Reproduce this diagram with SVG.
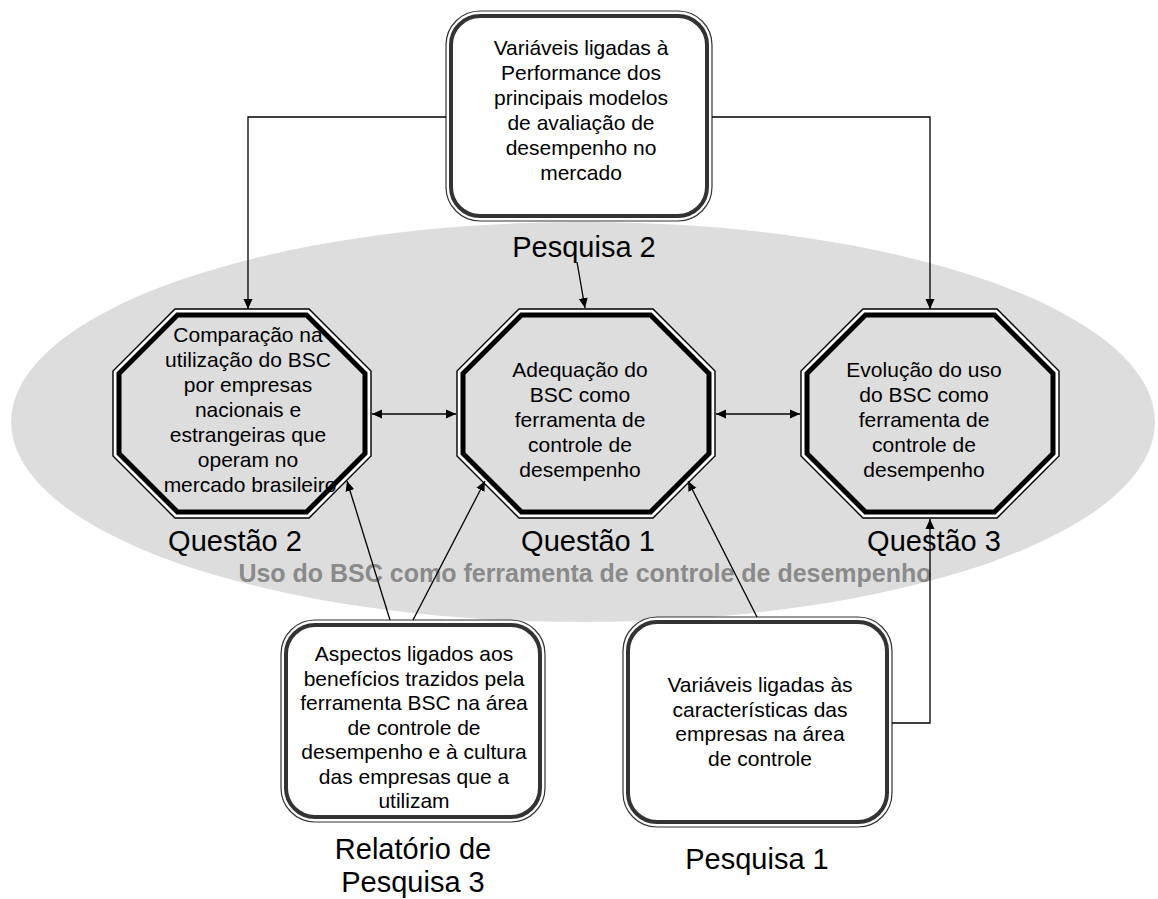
<svg xmlns="http://www.w3.org/2000/svg" width="1158" height="899" viewBox="0 0 1158 899">
<style>
text{font-family:"Liberation Sans",Arial,sans-serif;fill:#000;text-anchor:middle}
.body{font-size:21px}
.cap{font-size:29px}
.band{font-size:25px;font-weight:bold;fill:#8a8a8a}
.frame-out{fill:#fff;stroke:#333;stroke-width:1.2}
.frame-in{fill:#fff;stroke:#333;stroke-width:4}
.oct-out{fill:#fff;stroke:#000;stroke-width:1.4}
.oct-in{fill:#ddd;stroke:#000;stroke-width:5}
.wire{fill:none;stroke:#000;stroke-width:1.3}
</style>
<defs>
<marker id="head" viewBox="0 0 10 10" refX="10" refY="5" markerWidth="10" markerHeight="10" markerUnits="userSpaceOnUse" orient="auto-start-reverse">
<path d="M0,0.5 L10,5 L0,9.5 z" fill="#000"/>
</marker>
<polygon id="oct-o" class="oct-out" points="-67,-104.5 67,-104.5 129,-42.5 129,42.5 67,104.5 -67,104.5 -129,42.5 -129,-42.5"/>
<polygon id="oct-i" class="oct-in" points="-64.5,-98.5 64.5,-98.5 123,-40 123,40 64.5,98.5 -64.5,98.5 -123,40 -123,-40"/>
</defs>

<rect width="1158" height="899" fill="#fff"/>

<!-- background band -->
<g id="band">
<ellipse cx="583" cy="422" rx="572" ry="200" fill="#ddd"/>
<text class="band" x="585" y="582">Uso do BSC como ferramenta de controle de desempenho</text>
</g>

<!-- research sources -->
<g id="pesquisa2">
<rect class="frame-out" x="446" y="11" width="266" height="210" rx="34"/>
<rect class="frame-in" x="451" y="16" width="256" height="200" rx="29"/>
<text class="body" x="581" y="55">Variáveis ligadas à</text>
<text class="body" x="581" y="80">Performance dos</text>
<text class="body" x="581" y="105">principais modelos</text>
<text class="body" x="581" y="130">de avaliação de</text>
<text class="body" x="581" y="155">desempenho no</text>
<text class="body" x="581" y="180">mercado</text>
<text class="cap" x="584" y="257">Pesquisa 2</text>
</g>

<g id="pesquisa3">
<rect class="frame-out" x="281" y="620" width="264" height="202" rx="34"/>
<rect class="frame-in" x="286" y="625" width="254" height="192" rx="29"/>
<text class="body" x="414" y="661">Aspectos ligados aos</text>
<text class="body" x="414" y="685.5">benefícios trazidos pela</text>
<text class="body" x="414" y="710">ferramenta BSC na área</text>
<text class="body" x="414" y="734.5">de controle de</text>
<text class="body" x="414" y="759">desempenho e à cultura</text>
<text class="body" x="414" y="783.5">das empresas que a</text>
<text class="body" x="414" y="808">utilizam</text>
<text class="cap" x="413" y="859">Relatório de</text>
<text class="cap" x="413" y="892">Pesquisa 3</text>
</g>

<g id="pesquisa1">
<rect class="frame-out" x="623" y="617" width="269" height="210" rx="34"/>
<rect class="frame-in" x="628" y="622" width="259" height="200" rx="29"/>
<text class="body" x="760" y="692">Variáveis ligadas às</text>
<text class="body" x="760" y="716.5">características das</text>
<text class="body" x="760" y="741">empresas na área</text>
<text class="body" x="760" y="765.5">de controle</text>
<text class="cap" x="757" y="869">Pesquisa 1</text>
</g>

<!-- research questions -->
<g id="questao2">
<use href="#oct-o" x="242" y="413.5"/>
<use href="#oct-i" x="242" y="413.5"/>
<text class="body" x="248" y="342">Comparação na</text>
<text class="body" x="248" y="367">utilização do BSC</text>
<text class="body" x="248" y="392">por empresas</text>
<text class="body" x="248" y="417">nacionais e</text>
<text class="body" x="248" y="442">estrangeiras que</text>
<text class="body" x="248" y="467">operam no</text>
<text class="body" x="250" y="492">mercado brasileiro</text>
<text class="cap" x="235" y="551">Questão 2</text>
</g>

<g id="questao1">
<use href="#oct-o" x="586" y="413.5"/>
<use href="#oct-i" x="586" y="413.5"/>
<text class="body" x="580" y="377">Adequação do</text>
<text class="body" x="580" y="402">BSC como</text>
<text class="body" x="580" y="427">ferramenta de</text>
<text class="body" x="580" y="452">controle de</text>
<text class="body" x="580" y="477">desempenho</text>
<text class="cap" x="588" y="551">Questão 1</text>
</g>

<g id="questao3">
<use href="#oct-o" x="930" y="413.5"/>
<use href="#oct-i" x="930" y="413.5"/>
<text class="body" x="924" y="377">Evolução do uso</text>
<text class="body" x="924" y="402">do BSC como</text>
<text class="body" x="924" y="427">ferramenta de</text>
<text class="body" x="924" y="452">controle de</text>
<text class="body" x="924" y="477">desempenho</text>
<text class="cap" x="934" y="551">Questão 3</text>
</g>

<!-- connectors -->
<g id="connectors" class="wire">
<polyline class="wire" points="446,117 248,117 248,309" marker-end="url(#head)"/>
<polyline class="wire" points="712,117 930,117 930,309" marker-end="url(#head)"/>
<line x1="577" y1="262" x2="585" y2="308" marker-end="url(#head)"/>
<line x1="372" y1="414" x2="456" y2="414" marker-start="url(#head)" marker-end="url(#head)"/>
<line x1="716" y1="414" x2="800" y2="414" marker-start="url(#head)" marker-end="url(#head)"/>
<line x1="390" y1="620" x2="347" y2="481" marker-end="url(#head)"/>
<line x1="413" y1="620" x2="485" y2="481" marker-end="url(#head)"/>
<line x1="757" y1="617" x2="688" y2="481" marker-end="url(#head)"/>
<polyline class="wire" points="892,723 930,723 930,519" marker-end="url(#head)"/>
</g>
</svg>
